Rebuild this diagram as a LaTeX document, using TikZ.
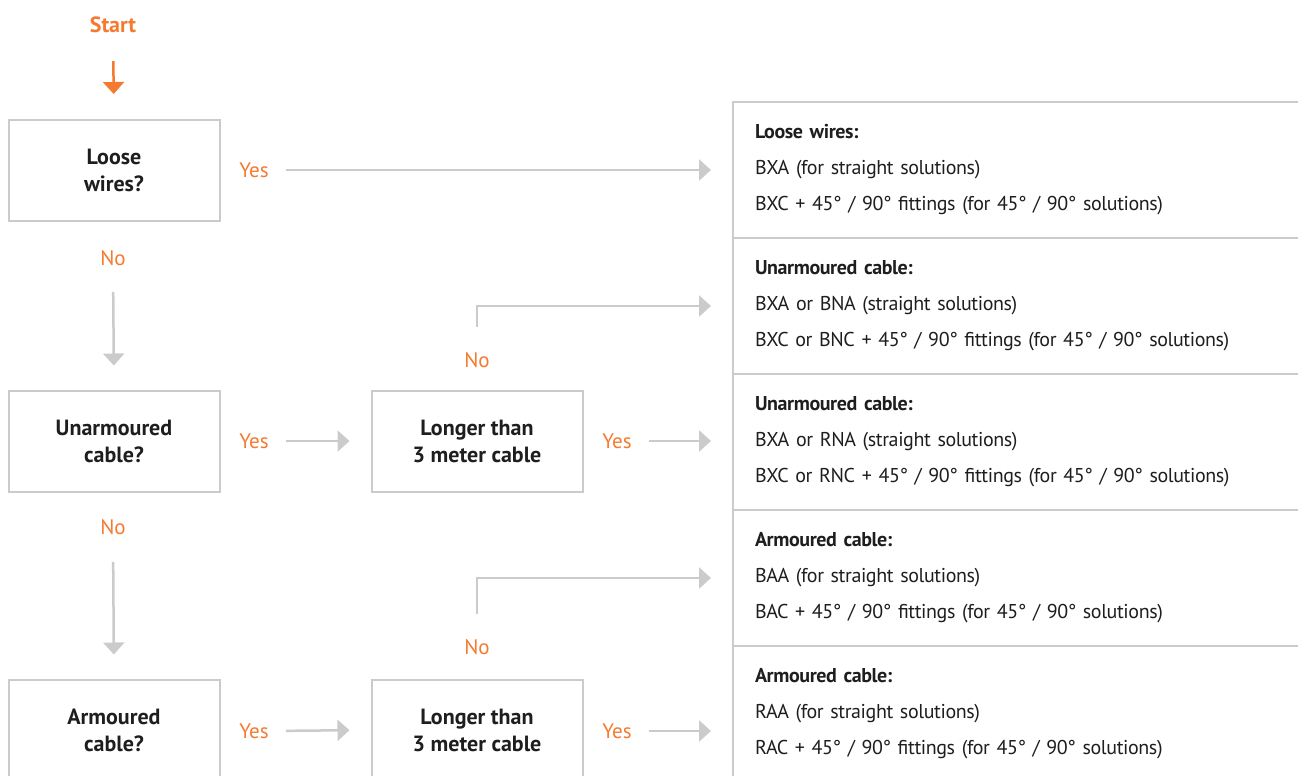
\documentclass[tikz,border=0pt]{standalone}
\usepackage{fontspec}
\setmainfont{PT Sans}
\newfontfamily\tightfont[LetterSpace=-2]{PT Sans}
\usetikzlibrary{positioning, arrows.meta}
\definecolor{brandorange}{HTML}{F47A30}
\definecolor{linegray}{HTML}{CBCBCB}
\definecolor{textdark}{HTML}{1E1E1E}

\begin{document}
\begin{tikzpicture}[x=1pt, y=-1pt,
	qbox/.style={draw=linegray, line width=2pt, minimum width=211pt, minimum height=101pt, align=center, inner sep=0pt, text=textdark, font=\fontsize{22}{27}\selectfont\bfseries},
	resbox/.style={draw=linegray, line width=2pt, anchor=north west, minimum height=136pt, text width=556pt, inner xsep=22pt, inner ysep=0pt, align=left, text=textdark, font=\tightfont\fontsize{20}{36}\selectfont},
	ans/.style={font=\fontsize{21}{27}\selectfont, text=brandorange, inner sep=0pt},
	flow/.style={draw=linegray, line width=2.5pt, -{Triangle[length=12pt, width=21pt]}}]
	\useasboundingbox (0,0) rectangle (1298,776);
	% questions
	\node[ans, font=\fontsize{22}{27}\selectfont\bfseries] (start) at (113,25) {Start};
	\node[qbox] (loose) at (114,170.5) {Loose\\wires?};
	\node[qbox] (unarm) at (114,441) {Unarmoured\\cable?};
	\node[qbox] (arm) at (114,730) {Armoured\\cable?};
	\node[qbox] (long1) at (477,441) {Longer than\\3 meter cable};
	\node[qbox] (long2) at (477,730) {Longer than\\3 meter cable};
	% results
	\node[resbox] (res1) at (732,101) {\textbf{Loose wires:}\\BXA (for straight solutions)\\BXC + 45° / 90° fittings (for 45° / 90° solutions)};
	\node[resbox] (res2) at (732,237) {\textbf{Unarmoured cable:}\\BXA or BNA (straight solutions)\\BXC or BNC + 45° / 90° fittings (for 45° / 90° solutions)};
	\node[resbox] (res3) at (732,373) {\textbf{Unarmoured cable:}\\BXA or RNA (straight solutions)\\BXC or RNC + 45° / 90° fittings (for 45° / 90° solutions)};
	\node[resbox] (res4) at (732,509) {\textbf{Armoured cable:}\\BAA (for straight solutions)\\BAC + 45° / 90° fittings (for 45° / 90° solutions)};
	\node[resbox] (res5) at (732,645) {\textbf{Armoured cable:}\\RAA (for straight solutions)\\RAC + 45° / 90° fittings (for 45° / 90° solutions)};
	% answers
	\node[ans] (yes1) at (254,170) {Yes};
	\node[ans] (no1) at (113,258) {No};
	\node[ans] (yes2) at (254,441) {Yes};
	\node[ans] (no2) at (113,527) {No};
	\node[ans] (yes3) at (254,731) {Yes};
	\node[ans] (yes4) at (617,441) {Yes};
	\node[ans] (no4) at (477,360) {No};
	\node[ans] (yes5) at (617,731) {Yes};
	\node[ans] (no5) at (477,647) {No};
	% arrows
	\draw[flow, draw=brandorange, shorten <=28pt, shorten >=25pt] (start.south) -- (loose.north);
	\draw[flow, shorten <=17pt, shorten >=21pt] (yes1.east) -- (yes1 -| res1.west);
	\draw[flow, shorten <=26pt, shorten >=24pt] (no1.south) -- (unarm.north);
	\draw[flow, shorten <=17pt, shorten >=21pt] (yes2.east) -- (long1.west);
	\draw[flow, shorten <=17pt, shorten >=21pt] (yes4.east) -- (yes4 -| res3.west);
	\draw[flow, shorten <=25pt, shorten >=21pt] (no4.north) |- (res2.west);
	\draw[flow, shorten <=27pt, shorten >=24pt] (no2.south) -- (arm.north);
	\draw[flow, shorten <=17pt, shorten >=21pt] (yes3.east) -- (long2.west);
	\draw[flow, shorten <=17pt, shorten >=21pt] (yes5.east) -- (yes5 -| res5.west);
	\draw[flow, shorten <=25pt, shorten >=21pt] (no5.north) |- (res4.west);
\end{tikzpicture}
\end{document}
